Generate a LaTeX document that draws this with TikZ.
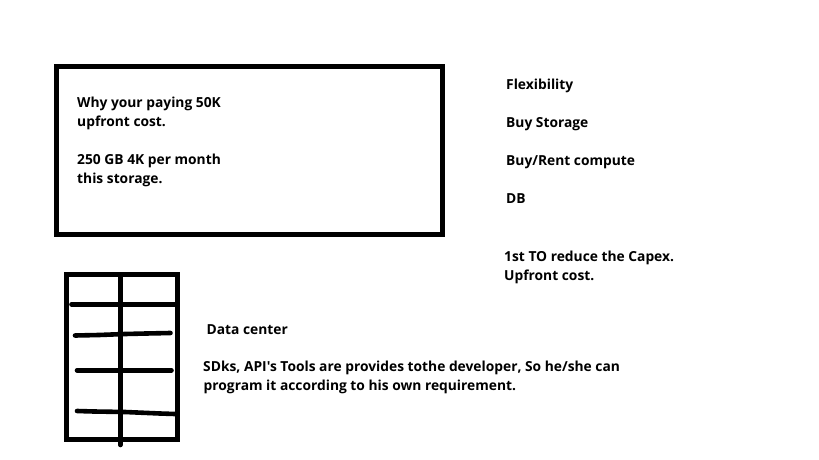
\documentclass[tikz,border=0pt]{standalone}
\usepackage{fontspec}
\newfontfamily\labelfont{Open Sans}
\tikzset{
  x=1pt,y=-1pt,
  txt/.style={anchor=base west,inner sep=0pt,font=\labelfont\fontsize{13.8pt}{16pt}\selectfont\bfseries,text=black},
  pen/.style={draw=black,line width=5pt,line join=miter},
  shelf/.style={draw=black,line width=4.6pt,line cap=round,line join=round}
}
\begin{document}
\begin{tikzpicture}
\useasboundingbox[fill=white] (0,0) rectangle (819,460);
\draw[pen] (56.5,66.5) rectangle (442.5,234);
\draw[pen] (66.5,274.5) rectangle (177.5,439.5);
\draw[shelf] (120.3,275) -- (120.3,445);
\draw[shelf] (71.5,304.3) -- (176,304.3);
\draw[shelf] (75,335.5) -- (99,335) -- (125,334) -- (146,333.5) -- (170.5,333);
\draw[shelf] (77,370.3) -- (171.5,370.3);
\draw[shelf] (77,411) -- (94,411.5) -- (125,412) -- (160,413.5) -- (175,414);
\node[txt] (a1) at (77,107) {Why your paying 50K};
\node[txt] (a2) at (77,126) {upfront cost.};
\node[txt] (a3) at (77,164) {250 GB 4K per month};
\node[txt] (a4) at (77,183) {this storage.};
\node[txt] (b1) at (506,89.5) {Flexibility};
\node[txt] (b2) at (506,127.5) {Buy Storage};
\node[txt] (b3) at (506,165.5) {Buy/Rent compute};
\node[txt] (b4) at (506,203.5) {DB};
\node[txt] (c1) at (504,261) {1st TO reduce the Capex.};
\node[txt] (c2) at (504,280) {Upfront cost.};
\node[txt] (d1) at (206.5,334) {Data center};
\node[txt] (d2) at (203,371.5) {SDks, API's Tools are provides tothe developer, So he/she can};
\node[txt] (d3) at (203.5,390.5) {program it according to his own requirement.};
\end{tikzpicture}
\end{document}
